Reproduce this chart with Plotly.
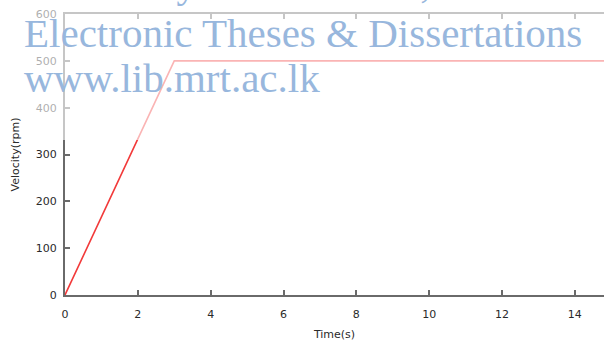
import plotly.graph_objects as go

# data
time_s = [0, 3, 15]
velocity_rpm = [0, 500, 500]
x_ticks = [0, 2, 4, 6, 8, 10, 12, 14]
y_ticks = [0, 100, 200, 300, 400, 500, 600]

W, H = 604, 349
L, R, T, B = 65, 0, 14, 54
pw, ph = W - L - R, H - T - B

def px(x):
    return (x - L) / pw

def py(y):
    return (H - B - y) / ph

fig = go.Figure()
fig.add_trace(go.Scatter(x=time_s, y=velocity_rpm, mode="lines",
                         line=dict(color="#f23a3a", width=1.6),
                         showlegend=False, hoverinfo="skip"))

tfont = dict(family="DejaVu Sans", size=11, color="#2a2a2a")
axis_common = dict(showgrid=False, zeroline=False, showline=True,
                   linecolor="#6a6a6a", linewidth=2, ticks="inside",
                   ticklen=5, tickwidth=1.5, tickcolor="#6a6a6a",
                   tickfont=tfont)

fig.update_xaxes(range=[0, 14.8], tickvals=x_ticks, mirror="ticks",
                 ticklabelstandoff=8,
                 title=dict(text="Time(s)", standoff=10, font=tfont),
                 **axis_common)
fig.update_yaxes(range=[0, 600], tickvals=y_ticks, mirror=False,
                 ticklabelstandoff=4,
                 title=dict(text="Velocity(rpm)", standoff=14, font=tfont),
                 **axis_common)

# semi-transparent white band of the watermark
fig.add_shape(type="rect", xref="paper", yref="paper",
              x0=px(-10), x1=px(W + 10), y0=py(140), y1=py(-10),
              fillcolor="rgba(255,255,255,0.62)", line=dict(width=0), layer="above")

wm_font = dict(family="Liberation Serif", size=41, color="#98b7dd")
lines = [("University of Moratuwa, Sri Lanka.", -3),
         ("Electronic Theses &amp; Dissertations", 47),
         ("www.lib.mrt.ac.lk", 92)]
for txt, base in lines:
    fig.add_annotation(text=txt, xref="paper", yref="paper",
                       x=px(22), y=py(base - 14), xanchor="left", yanchor="middle",
                       showarrow=False, font=wm_font)

fig.update_layout(width=W, height=H, margin=dict(l=L, r=R, t=T, b=B),
                  paper_bgcolor="white", plot_bgcolor="white")

fig.write_html("out.html")
